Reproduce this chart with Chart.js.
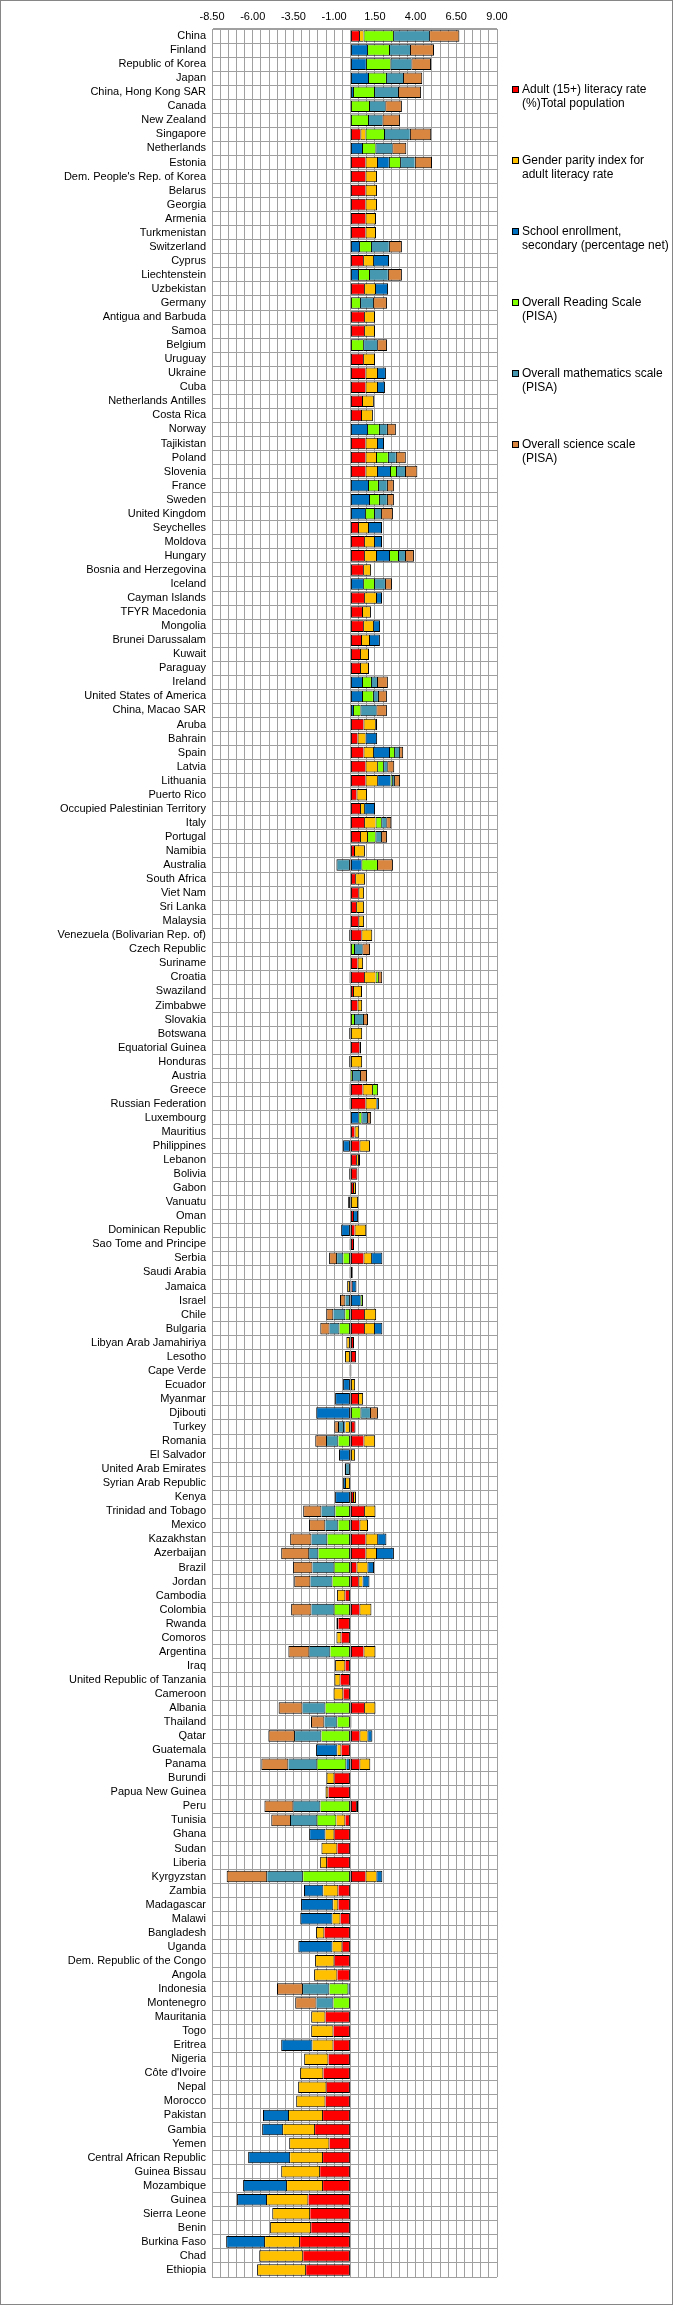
<!DOCTYPE html>
<html>
<head>
<meta charset="utf-8">
<title>Education indicators</title>
<script src="https://cdn.jsdelivr.net/npm/chart.js@4.4.0/dist/chart.umd.min.js"></script>
<style>
	html, body { margin: 0; padding: 0; background: #fff; }
	#wrap { position: relative; width: 673px; height: 2305px; overflow: hidden; }
	#chart { position: absolute; left: 0; top: 0; }
	#frame { position: absolute; left: 0; top: 0; width: 673px; height: 2305px; box-sizing: border-box; border: 1px solid #868686; pointer-events: none; }
	#legend { font-family: "Liberation Sans", Arial, sans-serif; font-size: 12px; color: #000; }
	#legend .item { position: absolute; left: 522px; width: 150px; line-height: 14px; white-space: pre-line; }
	#legend .box { position: absolute; left: -10px; top: 4px; width: 5px; height: 5px; border: 1px solid #000; }
</style>
</head>
<body>
<div id="wrap">
	<canvas id="chart" width="673" height="2305"></canvas>
	<div id="legend"></div>
	<div id="frame"></div>
</div>
<script>
var countries = [
	"China", "Finland", "Republic of Korea", "Japan", "China, Hong Kong SAR", "Canada", "New Zealand", "Singapore", "Netherlands", "Estonia",
	"Dem. People's Rep. of Korea", "Belarus", "Georgia", "Armenia", "Turkmenistan", "Switzerland", "Cyprus", "Liechtenstein", "Uzbekistan", "Germany",
	"Antigua and Barbuda", "Samoa", "Belgium", "Uruguay", "Ukraine", "Cuba", "Netherlands Antilles", "Costa Rica", "Norway", "Tajikistan",
	"Poland", "Slovenia", "France", "Sweden", "United Kingdom", "Seychelles", "Moldova", "Hungary", "Bosnia and Herzegovina", "Iceland",
	"Cayman Islands", "TFYR Macedonia", "Mongolia", "Brunei Darussalam", "Kuwait", "Paraguay", "Ireland", "United States of America", "China, Macao SAR", "Aruba",
	"Bahrain", "Spain", "Latvia", "Lithuania", "Puerto Rico", "Occupied Palestinian Territory", "Italy", "Portugal", "Namibia", "Australia",
	"South Africa", "Viet Nam", "Sri Lanka", "Malaysia", "Venezuela (Bolivarian Rep. of)", "Czech Republic", "Suriname", "Croatia", "Swaziland", "Zimbabwe",
	"Slovakia", "Botswana", "Equatorial Guinea", "Honduras", "Austria", "Greece", "Russian Federation", "Luxembourg", "Mauritius", "Philippines",
	"Lebanon", "Bolivia", "Gabon", "Vanuatu", "Oman", "Dominican Republic", "Sao Tome and Principe", "Serbia", "Saudi Arabia", "Jamaica",
	"Israel", "Chile", "Bulgaria", "Libyan Arab Jamahiriya", "Lesotho", "Cape Verde", "Ecuador", "Myanmar", "Djibouti", "Turkey",
	"Romania", "El Salvador", "United Arab Emirates", "Syrian Arab Republic", "Kenya", "Trinidad and Tobago", "Mexico", "Kazakhstan", "Azerbaijan", "Brazil",
	"Jordan", "Cambodia", "Colombia", "Rwanda", "Comoros", "Argentina", "Iraq", "United Republic of Tanzania", "Cameroon", "Albania",
	"Thailand", "Qatar", "Guatemala", "Panama", "Burundi", "Papua New Guinea", "Peru", "Tunisia", "Ghana", "Sudan",
	"Liberia", "Kyrgyzstan", "Zambia", "Madagascar", "Malawi", "Bangladesh", "Uganda", "Dem. Republic of the Congo", "Angola", "Indonesia",
	"Montenegro", "Mauritania", "Togo", "Eritrea", "Nigeria", "C\u00f4te d'Ivoire", "Nepal", "Morocco", "Pakistan", "Gambia",
	"Yemen", "Central African Republic", "Guinea Bissau", "Mozambique", "Guinea", "Sierra Leone", "Benin", "Burkina Faso", "Chad", "Ethiopia"
];

// standardised scores, one value per country (0 = no data)
var literacy = [
	0.53, 0, 0, 0, 0, 0, 0, 0.61, 0, 0.92,
	0.92, 0.92, 0.92, 0.92, 0.92, 0, 0.78, 0, 0.84, 0,
	0.84, 0.84, 0, 0.78, 0.92, 0.92, 0.71, 0.65, 0, 0.92,
	0.92, 0.92, 0, 0, 0, 0.47, 0.84, 0.84, 0.78, 0,
	0.84, 0.71, 0.78, 0.65, 0.59, 0.59, 0, 0, 0, 0.8,
	0.43, 0.8, 0.92, 0.92, 0.37, 0.59, 0.84, 0.59, 0.22, 0,
	0.29, 0.49, 0.35, 0.49, 0.67, 0, 0.43, 0.84, 0.16, 0.43,
	0, -0.08, 0.55, -0.08, 0, 0.74, 0.92, 0, 0.25, 0.55,
	0.35, 0.43, 0.16, -0.14, 0.16, 0.25, 0.22, 0.8, 0.14, 0.08,
	0, 0.84, 0.84, 0.22, 0.35, 0.06, 0, 0.47, 0, 0.31,
	0.8, 0, 0, 0, 0.16, 0.84, 0.55, 0.92, 0.92, 0.37,
	0.49, -0.31, 0.55, -0.74, -0.55, 0.8, -0.31, -0.61, -0.43, 0.84,
	0.06, 0.55, -0.55, 0.55, -0.98, -1.35, 0.35, -0.31, -0.98, -0.8,
	-1.43, 0.92, -0.74, -0.74, -0.61, -1.6, -0.49, -0.98, -0.8, 0,
	0, -1.53, -1.04, -1.04, -1.35, -1.66, -1.47, -1.53, -1.68, -2.17,
	-1.29, -1.68, -1.86, -1.68, -2.58, -2.47, -2.41, -3.09, -2.9, -2.72
];
var genderParity = [
	0.27, 0, 0, 0, 0, 0, 0, 0.31, 0, 0.71,
	0.71, 0.71, 0.71, 0.65, 0.65, 0, 0.61, 0, 0.67, 0,
	0.67, 0.67, 0, 0.73, 0.71, 0.71, 0.73, 0.73, 0, 0.71,
	0.65, 0.71, 0, 0, 0, 0.61, 0.61, 0.73, 0.49, 0,
	0.73, 0.55, 0.61, 0.49, 0.55, 0.55, 0, 0, 0, 0.72,
	0.49, 0.59, 0.72, 0.72, 0.65, 0.25, 0.7, 0.43, 0.67, 0,
	0.61, 0.35, 0.49, 0.35, 0.67, 0, 0.35, 0.7, 0.55, 0.29,
	0, 0.72, 0.1, 0.72, 0, 0.59, 0.67, 0, 0.29, 0.65,
	0.12, 0, 0.18, 0.47, 0, 0.72, -0.06, 0.47, -0.06, -0.2,
	0, 0.74, 0.61, -0.25, -0.33, -0.06, 0.29, 0.31, 0, -0.31,
	0.72, 0.29, 0, -0.27, 0.18, 0.7, 0.53, 0.72, 0.65, 0.67,
	0.25, -0.51, 0.74, -0.12, -0.31, 0.74, -0.63, -0.37, -0.61, 0.7,
	0, 0.49, -0.25, 0.67, -0.49, -0.18, 0, -0.55, -0.55, -0.98,
	-0.43, 0.67, -0.92, -0.31, -0.49, -0.51, -0.61, -1.19, -1.43, 0,
	0, -0.88, -1.37, -1.29, -1.49, -1.43, -1.74, -1.8, -2.09, -1.96,
	-2.47, -2.02, -2.39, -2.21, -2.54, -2.33, -2.52, -2.15, -2.7, -3.01
];
var enrollment = [
	0, 1.02, 0.95, 1.08, 0.16, 0, 0, 0, 0.71, 0.73,
	0, 0, 0, 0, 0, 0.53, 0.98, 0.47, 0.8, 0,
	0, 0, 0, 0, 0.55, 0.49, 0, 0, 1.02, 0.43,
	0, 0.8, 1.08, 1.14, 0.9, 0.86, 0.49, 0.8, 0, 0.78,
	0.37, 0, 0.43, 0.67, 0, 0, 0.71, 0.71, 0.16, 0.12,
	0.72, 0.98, 0, 0.82, 0, 0.67, 0, 0, 0, 0.67,
	0, 0, 0, 0, -0.08, 0, 0, 0, 0, 0,
	0, 0, 0, 0, 0, 0, 0.1, 0.49, 0, -0.45,
	0.12, -0.08, 0, 0, 0.31, -0.57, 0, 0.69, 0, 0.29,
	0.61, 0, 0.51, 0, 0, 0, -0.45, -0.94, -2.1, -0.08,
	0, -0.7, 0, -0.18, -0.94, 0, 0, 0.57, 1.1, 0.41,
	0.43, 0, 0, 0, 0, 0, 0, 0, 0, 0,
	0, 0.31, -1.31, -0.25, 0, 0, 0.12, 0, -1.0, 0,
	0, 0.37, -1.19, -1.98, -1.98, 0, -2.1, 0, 0, -0.12,
	0, 0, 0, -1.92, 0, 0, 0, 0, -1.6, -1.29,
	0, -2.58, 0, -2.7, -1.84, 0, 0, -2.39, 0, 0
];
var reading = [
	1.82, 1.35, 1.5, 1.1, 1.29, 1.14, 1.08, 1.14, 0.82, 0.69,
	0, 0, 0, 0, 0, 0.73, 0, 0.67, 0, 0.59,
	0, 0, 0.78, 0, 0, 0, 0, 0, 0.73, 0,
	0.73, 0.37, 0.61, 0.61, 0.55, 0, 0, 0.55, 0, 0.67,
	0, 0, 0, 0, 0, 0, 0.55, 0.67, 0.45, 0,
	0, 0.31, 0.37, 0.08, 0, 0, 0.35, 0.51, 0, 0.96,
	0, 0, 0, 0, 0, 0.22, 0, 0.16, 0, 0,
	0.22, 0, 0, 0, 0.1, 0.37, 0.06, 0.18, 0, 0,
	0, 0, 0, 0, 0, 0, 0, -0.43, 0, 0,
	0.16, -0.31, -0.67, 0, 0, 0, 0, 0, 0.61, 0,
	-0.74, 0, 0, 0, 0, -0.92, -0.74, -1.41, -1.96, -0.98,
	-1.1, 0, -0.98, 0, 0, -1.23, 0, 0, 0, -1.53,
	-0.8, -1.78, 0, -1.78, 0, 0, -1.84, -1.17, 0, 0,
	0, -2.9, 0, 0, 0, 0, 0, 0, 0, -1.17,
	-1.04, 0, 0, 0, 0, 0, 0, 0, 0, 0,
	0, 0, 0, 0, 0, 0, 0, 0, 0, 0
];
var mathematics = [
	2.21, 1.29, 1.29, 1.05, 1.47, 1.0, 0.88, 1.59, 1.04, 0.9,
	0, 0, 0, 0, 0, 1.1, 0, 1.16, 0, 0.8,
	0, 0, 0.86, 0, 0, 0, 0, 0, 0.49, 0,
	0.49, 0.55, 0.55, 0.49, 0.43, 0, 0, 0.43, 0, 0.67,
	0, 0, 0, 0, 0, 0, 0.37, 0.31, 0.98, 0,
	0, 0.31, 0.25, 0.14, 0, 0, 0.31, 0.35, 0, -0.86,
	0, 0, 0, 0, 0, 0.51, 0, -0.06, 0, 0,
	0.55, 0, 0, 0, 0.49, -0.06, -0.06, 0.35, 0, 0,
	0, 0, 0, 0, 0, 0, 0, -0.39, 0, 0,
	-0.31, -0.74, -0.61, 0, 0, 0, 0, 0, 0.59, -0.31,
	-0.7, 0, -0.27, 0, 0, -0.86, -0.8, -0.98, -0.57, -1.35,
	-1.35, 0, -1.41, 0, 0, -1.29, 0, 0, 0, -1.41,
	-0.8, -1.62, 0, -1.78, 0, 0, -1.66, -1.62, 0, 0,
	0, -2.21, 0, 0, 0, 0, 0, 0, 0, -1.62,
	-1.04, 0, 0, 0, 0, 0, 0, 0, 0, 0,
	0, 0, 0, 0, 0, 0, 0, 0, 0, 0
];
var science = [
	1.86, 1.47, 1.21, 1.18, 1.42, 1.02, 1.08, 1.31, 0.86, 1.06,
	0, 0, 0, 0, 0, 0.8, 0, 0.86, 0, 0.86,
	0, 0, 0.61, 0, 0, 0, 0, 0, 0.55, 0,
	0.61, 0.76, 0.43, 0.43, 0.73, 0, 0, 0.55, 0, 0.43,
	0, 0, 0, 0, 0, 0, 0.67, 0.55, 0.65, 0,
	0, 0.25, 0.43, 0.37, 0, 0, 0.31, 0.37, 0, 0.98,
	0, 0, 0, 0, 0, 0.47, 0, 0.25, 0, 0,
	0.31, 0, 0, 0, 0.43, 0, 0, 0.25, 0, 0,
	0, 0, 0, 0, 0, 0, 0, -0.49, 0, 0,
	-0.33, -0.43, -0.57, 0, 0, 0, 0, 0, 0.49, -0.29,
	-0.72, 0, -0.08, 0, 0, -1.12, -1.0, -1.31, -1.72, -1.19,
	-1.0, 0, -1.25, 0, 0, -1.29, 0, 0, 0, -1.47,
	-0.82, -1.64, 0, -1.66, 0, 0, -1.78, -1.21, 0, 0,
	0, -2.49, 0, 0, 0, 0, 0, 0, 0, -1.6,
	-1.31, 0, 0, 0, 0, 0, 0, 0, 0, 0,
	0, 0, 0, 0, 0, 0, 0, 0, 0, 0
];

var seriesNames = [
	"Adult (15+) literacy rate\n(%)Total population",
	"Gender parity index for\nadult literacy rate",
	"School enrollment,\nsecondary (percentage net)",
	"Overall Reading Scale\n(PISA)",
	"Overall mathematics scale\n(PISA)",
	"Overall science scale\n(PISA)"
];
var seriesValues = [literacy, genderParity, enrollment, reading, mathematics, science];
var seriesColors = ["#ff0000", "#ffc000", "#0070c0", "#7fff00", "#4698b0", "#d98640"];

var X_MIN = -8.5, X_MAX = 9, X_STEP = 0.5;

(function() {
	"use strict";

	// one shared 1px line between touching segments, full outline on the ends
	function segmentBorder(c) {
		var d = c.datasetIndex, i = c.dataIndex;
		var v = seriesValues[d][i];
		var outer = true;
		for (var k = d + 1; k < seriesValues.length; k++) {
			if (seriesValues[k][i] * v > 0) {
				outer = false;
			}
		}
		if (v > 0) {
			return { top: 1, bottom: 1, left: 1, right: outer ? 1 : 0 };
		}
		return { top: 1, bottom: 1, right: 1, left: outer ? 1 : 0 };
	}

	var datasets = [];
	for (var i = 0; i < seriesNames.length; i++) {
		datasets.push({
			label: seriesNames[i].replace("\n", " "),
			data: seriesValues[i].map(function(v) { return v === 0 ? null : v; }),
			backgroundColor: seriesColors[i],
			borderColor: "#000",
			borderWidth: segmentBorder,
			borderSkipped: false,
			categoryPercentage: 0.82,
			barPercentage: 1
		});
	}

	var ctx = document.getElementById("chart").getContext("2d");
	var myChart = new Chart(ctx, {
		type: "bar",
		data: {
			labels: countries,
			datasets: datasets
		},
		options: {
			indexAxis: "y",
			responsive: false,
			animation: false,
			devicePixelRatio: 1,
			layout: { padding: { left: 0, top: 0, right: 176, bottom: 28 } },
			plugins: {
				legend: { display: false },
				tooltip: { enabled: false }
			},
			scales: {
				x: {
					position: "top",
					stacked: true,
					min: X_MIN,
					max: X_MAX,
					grid: { color: "#a0a0a0", lineWidth: 1, drawTicks: false },
					border: { color: "#a0a0a0" },
					ticks: {
						stepSize: X_STEP,
						autoSkip: false,
						maxRotation: 0,
						padding: 5,
						color: "#000",
						font: { family: "'Liberation Sans', Arial, sans-serif", size: 11 },
						callback: function(v) {
							var k = Math.round((v - X_MIN) / X_STEP);
							return k % 5 === 0 ? v.toFixed(2) : "";
						}
					},
					afterFit: function(scale) { scale.height = 29; }
				},
				y: {
					stacked: true,
					grid: { color: "#a0a0a0", lineWidth: 1, drawTicks: false },
					border: { color: "#a0a0a0" },
					ticks: {
						autoSkip: false,
						padding: 6,
						color: "#000",
						font: { family: "'Liberation Sans', Arial, sans-serif", size: 11 }
					},
					afterFit: function(scale) { scale.width = 212; }
				}
			}
		}
	});

	// legend on the right, one entry every 71px
	var legend = document.getElementById("legend");
	for (var j = 0; j < seriesNames.length; j++) {
		var item = document.createElement("div");
		item.className = "item";
		item.style.top = (82 + j * 71) + "px";
		var box = document.createElement("span");
		box.className = "box";
		box.style.background = myChart.data.datasets[j].backgroundColor;
		item.appendChild(box);
		item.appendChild(document.createTextNode(seriesNames[j]));
		legend.appendChild(item);
	}
})();
</script>
</body>
</html>
